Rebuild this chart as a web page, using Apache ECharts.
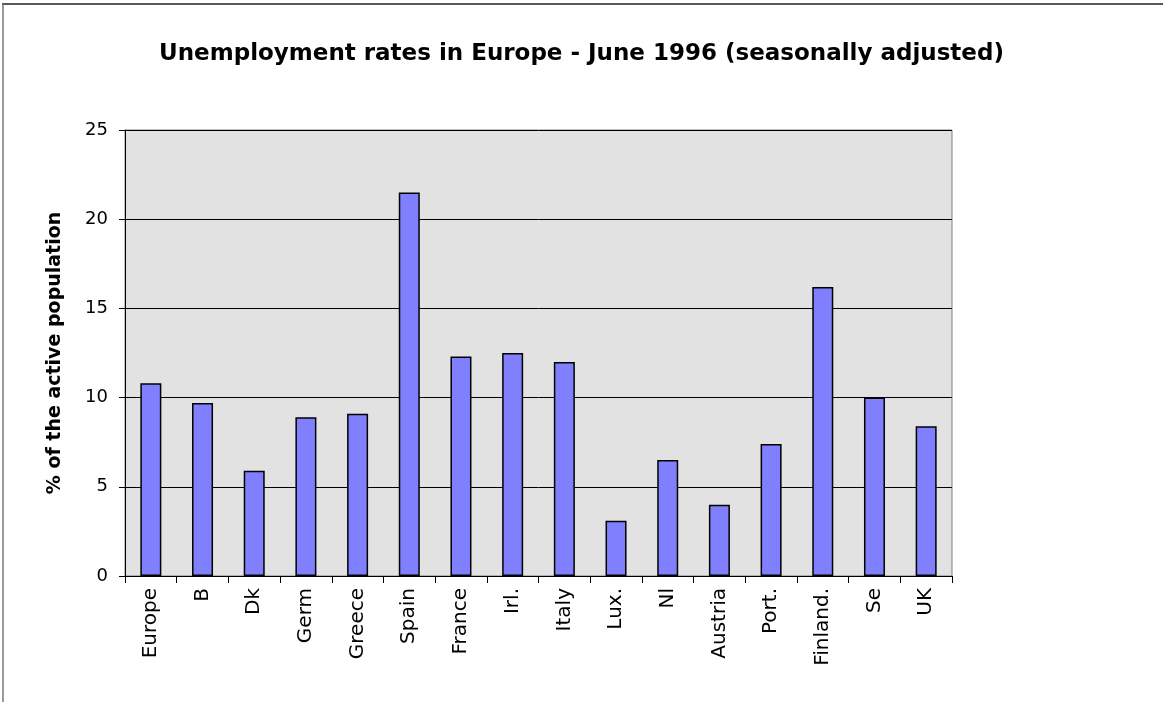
<!DOCTYPE html>
<html>
<head>
<meta charset="utf-8">
<script src="https://cdn.jsdelivr.net/npm/echarts@6/dist/echarts.min.js"></script>
<style>
html,body{margin:0;padding:0;background:#fff;}
#c{width:1163px;height:702px;}
</style>
</head>
<body>
<div id="c"></div>
<script>
const categories = ['Europe','B','Dk','Germ','Greece','Spain','France','Irl.','Italy','Lux.','Nl','Austria','Port.','Finland.','Se','UK'];
const rates = [10.8, 9.7, 5.9, 8.9, 9.1, 21.5, 12.3, 12.5, 12.0, 3.1, 6.5, 4.0, 7.4, 16.2, 10.0, 8.4];
const yTicks = { min: 0, max: 25, interval: 5 };
const titleText = 'Unemployment rates in Europe - June 1996 (seasonally adjusted)';
const yAxisTitle = '% of the active population';

const FONT = 'DejaVu Sans, Liberation Sans, Arial';
const chart = echarts.init(document.getElementById('c'), null, {renderer: 'canvas'});
chart.setOption({
  animation: false,
  backgroundColor: '#ffffff',
  title: {
    text: titleText,
    left: 'center',
    top: 38,
    textStyle: {fontFamily: FONT, fontWeight: 'bold', fontSize: 23, color: '#000'}
  },
  grid: {
    left: 125, right: 211, top: 130, bottom: 126,
    show: true, backgroundColor: '#e2e2e2', borderColor: '#808080', borderWidth: 1
  },
  xAxis: {
    type: 'category',
    data: categories,
    boundaryGap: true,
    axisLine: {show: true, lineStyle: {color: '#000', width: 1}},
    axisTick: {show: true, length: 7, alignWithLabel: false, lineStyle: {color: '#000'}},
    axisLabel: {rotate: 90, fontFamily: FONT, fontSize: 20, color: '#000', margin: 12}
  },
  yAxis: {
    type: 'value',
    min: yTicks.min, max: yTicks.max, interval: yTicks.interval,
    name: yAxisTitle,
    nameLocation: 'middle',
    nameRotate: 90,
    nameGap: 60,
    nameTextStyle: {fontFamily: FONT, fontWeight: 'bold', fontSize: 19, color: '#000'},
    axisLine: {show: true, lineStyle: {color: '#000', width: 1}},
    axisTick: {show: true, length: 6, lineStyle: {color: '#000'}},
    axisLabel: {fontFamily: FONT, fontSize: 18, color: '#000', margin: 17},
    splitLine: {show: true, lineStyle: {color: '#000', width: 1}}
  },
  graphic: [
    {type: 'line', shape: {x1: 2, y1: 4, x2: 1163, y2: 4}, style: {stroke: '#222', lineWidth: 1.5}, silent: true},
    {type: 'line', shape: {x1: 3, y1: 4, x2: 3, y2: 702}, style: {stroke: '#777', lineWidth: 1.5}, silent: true}
  ],
  series: [{
    type: 'bar',
    data: rates,
    barWidth: 21,
    itemStyle: {color: '#8080ff', borderColor: '#000', borderWidth: 1.5}
  }]
});
</script>
</body>
</html>
